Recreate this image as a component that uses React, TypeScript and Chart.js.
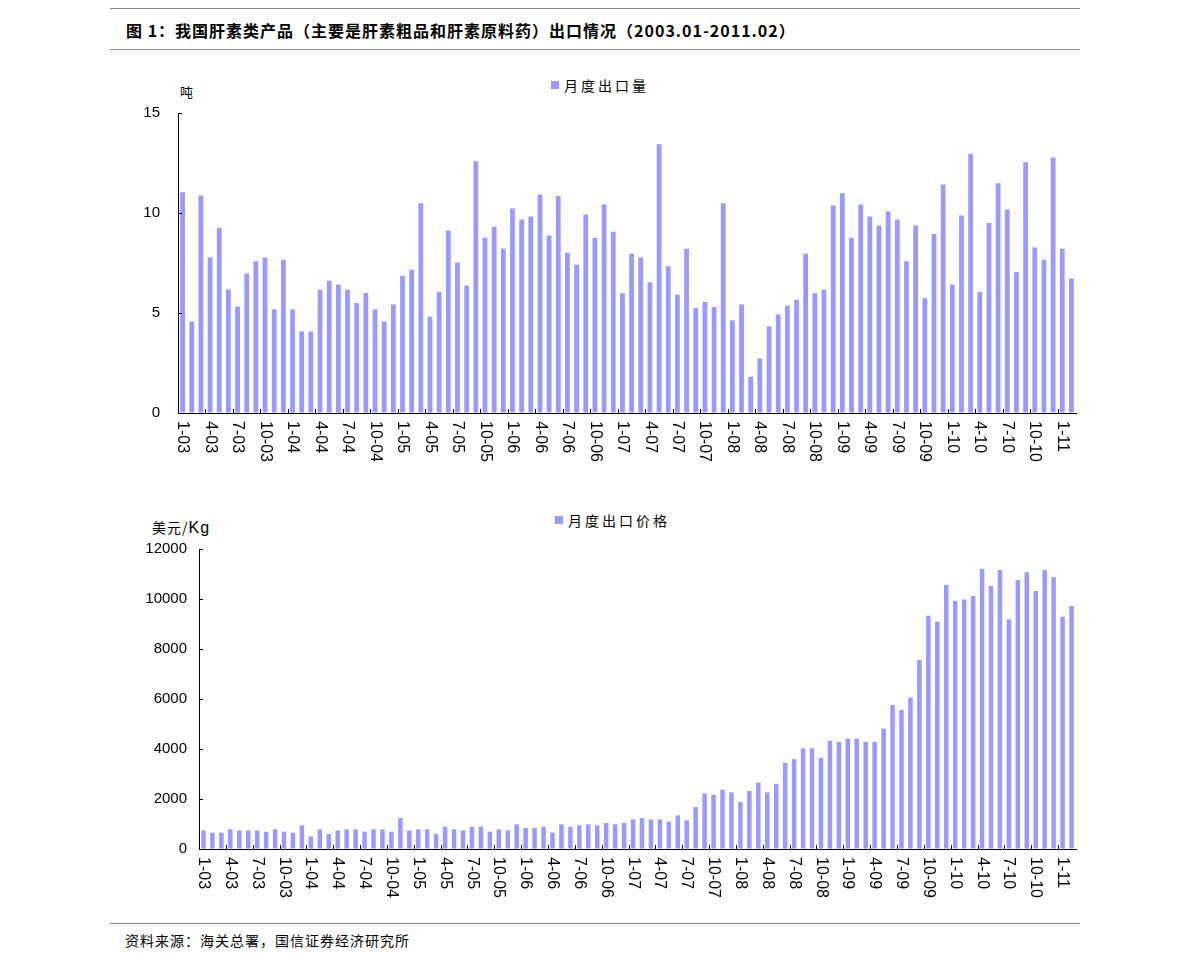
import { useEffect, useRef } from "react";
import { Chart, registerables, type Plugin } from "chart.js";

Chart.register(...registerables);

// 2003.01 – 2011.02, one category per month
const years = ["03", "04", "05", "06", "07", "08", "09", "10", "11"];
const months: string[] = [];
years.forEach((y) => {
  for (let m = 1; m <= 12; m++) {
    if (y === "11" && m > 2) break;
    months.push(`${m}-${y}`);
  }
});

// 月度出口量 (吨)
const volume = [
  11.04, 4.57, 10.87, 7.78, 9.26, 6.17, 5.32, 6.97, 7.59, 7.78, 5.18, 7.66,
  5.18, 4.08, 4.08, 6.17, 6.61, 6.42, 6.17, 5.5, 6.0, 5.18, 4.57, 5.43,
  6.86, 7.16, 10.49, 4.82, 6.05, 9.13, 7.53, 6.37, 12.59, 8.76, 9.31, 8.21,
  10.23, 9.68, 9.82, 10.92, 8.88, 10.85, 8.01, 7.41, 9.93, 8.76, 10.43, 9.06,
  5.99, 7.96, 7.78, 6.54, 13.44, 7.34, 5.92, 8.21, 5.25, 5.55, 5.3, 10.49,
  4.63, 5.43, 1.81, 2.73, 4.33, 4.93, 5.37, 5.67, 7.96, 5.99, 6.17, 10.37,
  10.99, 8.76, 10.43, 9.82, 9.38, 10.07, 9.68, 7.59, 9.38, 5.74, 8.95, 11.42,
  6.42, 9.87, 12.96, 6.05, 9.5, 11.49, 10.18, 7.04, 12.54, 8.28, 7.66, 12.78,
  8.21, 6.72,
];

// 月度出口价格 (美元/Kg)
const price = [
  745, 652, 652, 785, 745, 745, 745, 692, 785, 692, 652, 945,
  505, 785, 599, 745, 785, 785, 692, 785, 785, 692, 1237, 745,
  785, 785, 599, 891, 785, 745, 891, 891, 692, 785, 745, 984,
  838, 838, 891, 652, 984, 891, 945, 984, 945, 1038, 984, 1038,
  1184, 1237, 1184, 1184, 1091, 1344, 1144, 1676, 2222, 2168, 2368, 2262,
  1876, 2315, 2661, 2262, 2607, 3446, 3592, 4031, 4031, 3645, 4324, 4284,
  4417, 4417, 4284, 4284, 4816, 5760, 5561, 6053, 7570, 9326, 9086, 10563,
  9924, 9977, 10124, 11201, 10523, 11161, 9193, 10762, 11068, 10323, 11161, 10869,
  9286, 9725,
];

const BAR = "#9999ff";
const LATIN = "'Liberation Sans', Arial, sans-serif";
const CJK = "'Noto Sans CJK SC', sans-serif";

// inward tick marks + downward-reading month labels, every third month
const axisMarks: Plugin<"bar"> = {
  id: "axisMarks",
  afterDraw(chart) {
    const { ctx, chartArea, scales } = chart;
    const x = scales.x;
    const y = scales.y;
    const half = (x.getPixelForValue(1) - x.getPixelForValue(0)) / 2;
    ctx.save();
    ctx.strokeStyle = "#000";
    ctx.lineWidth = 1;
    ctx.beginPath();
    y.ticks.forEach((_, i) => {
      const py = Math.round(y.getPixelForTick(i)) + 0.5;
      ctx.moveTo(chartArea.left, py);
      ctx.lineTo(chartArea.left + 4, py);
    });
    for (let i = 0; i < months.length; i += 3) {
      const px = Math.round(x.getPixelForValue(i) - half) + 0.5;
      ctx.moveTo(px, chartArea.bottom);
      ctx.lineTo(px, chartArea.bottom - 4);
    }
    ctx.stroke();
    ctx.fillStyle = "#000";
    ctx.font = `16px ${LATIN}`;
    ctx.textAlign = "left";
    ctx.textBaseline = "middle";
    for (let i = 0; i < months.length; i += 3) {
      ctx.save();
      ctx.translate(x.getPixelForValue(i), chartArea.bottom + 8);
      ctx.rotate(Math.PI / 2);
      ctx.fillText(months[i], 0, 0);
      ctx.restore();
    }
    ctx.restore();
  },
};

interface PanelProps {
  values: number[];
  max: number;
  step: number;
  yWidth: number;
  tickPad: number;
  padTop: number;
  barPct: number;
  left: number;
  top: number;
  width: number;
  height: number;
}

function BarPanel({ values, max, step, yWidth, tickPad, padTop, barPct, left, top, width, height }: PanelProps) {
  const canvasRef = useRef<HTMLCanvasElement>(null);

  useEffect(() => {
    if (!canvasRef.current) return;
    const chart = new Chart(canvasRef.current, {
      type: "bar",
      data: {
        labels: months,
        datasets: [
          {
            data: values,
            backgroundColor: BAR,
            borderWidth: 0,
            barPercentage: barPct,
            categoryPercentage: 1,
          },
        ],
      },
      options: {
        animation: false,
        responsive: true,
        maintainAspectRatio: false,
        layout: { padding: { top: padTop, right: 14, left: 0, bottom: 0 } },
        plugins: { legend: { display: false }, tooltip: { enabled: false } },
        scales: {
          x: {
            grid: { display: true, drawOnChartArea: false, drawTicks: false },
            border: { display: true, color: "#000", width: 1 },
            ticks: { display: false },
            afterFit: (s) => {
              s.height = height - padTop - 300;
              s.paddingLeft = 0;
              s.paddingRight = 0;
            },
          },
          y: {
            min: 0,
            max,
            grid: { display: true, drawOnChartArea: false, drawTicks: false },
            border: { display: true, color: "#000", width: 1 },
            ticks: {
              stepSize: step,
              color: "#000",
              padding: tickPad,
              font: { family: LATIN, size: 15 },
              callback: (v) => String(v),
            },
            afterFit: (s) => {
              s.width = yWidth;
              s.paddingTop = 0;
              s.paddingBottom = 0;
            },
          },
        },
      },
      plugins: [axisMarks],
    });
    return () => chart.destroy();
  }, [values, max, step, yWidth, tickPad, padTop, barPct, height]);

  return (
    <div style={{ position: "absolute", left, top, width, height }}>
      <canvas ref={canvasRef} />
    </div>
  );
}

const rule = (top: number) => (
  <div style={{ position: "absolute", left: 110, top, width: 970, height: 1, background: "#888" }} />
);

const legendStyle = {
  position: "absolute" as const,
  fontFamily: CJK,
  fontSize: 14,
  letterSpacing: 3,
  color: "#000",
  whiteSpace: "nowrap" as const,
  display: "flex",
  alignItems: "center",
};

const swatch = <span style={{ display: "inline-block", width: 8, height: 8, background: BAR, marginRight: 5 }} />;

export default function App() {
  return (
    <div style={{ position: "absolute", left: 0, top: 0, width: 1191, height: 968, background: "#fff" }}>
      {rule(8)}
      <div
        style={{
          position: "absolute",
          left: 126,
          top: 18,
          fontFamily: CJK,
          fontWeight: 700,
          fontSize: 16,
          letterSpacing: 1,
          whiteSpace: "nowrap",
          color: "#000",
        }}
      >
        图 1：我国肝素类产品（主要是肝素粗品和肝素原料药）出口情况（2003.01-2011.02）
      </div>
      {rule(49)}

      <div style={{ ...legendStyle, left: 551, top: 75 }}>
        {swatch}月度出口量
      </div>
      <div style={{ position: "absolute", left: 180, top: 82, fontFamily: CJK, fontSize: 13 }}>吨</div>
      <BarPanel
        values={volume}
        max={15}
        step={5}
        yWidth={78}
        tickPad={18}
        padTop={13}
        barPct={0.52}
        left={100}
        top={100}
        width={990}
        height={380}
      />

      <div style={{ ...legendStyle, left: 555, top: 510 }}>
        {swatch}月度出口价格
      </div>
      <div style={{ position: "absolute", left: 152, top: 517, fontFamily: CJK, fontSize: 14, letterSpacing: 1 }}>
        美元/<span style={{ fontFamily: LATIN, fontSize: 16 }}>Kg</span>
      </div>
      <BarPanel
        values={price}
        max={12000}
        step={2000}
        yWidth={99}
        tickPad={12}
        padTop={19}
        barPct={0.5}
        left={100}
        top={530}
        width={990}
        height={400}
      />

      {rule(923)}
      <div
        style={{
          position: "absolute",
          left: 125,
          top: 930,
          fontFamily: CJK,
          fontSize: 14,
          letterSpacing: 1,
          color: "#000",
          whiteSpace: "nowrap",
        }}
      >
        资料来源：海关总署，国信证券经济研究所
      </div>
    </div>
  );
}
